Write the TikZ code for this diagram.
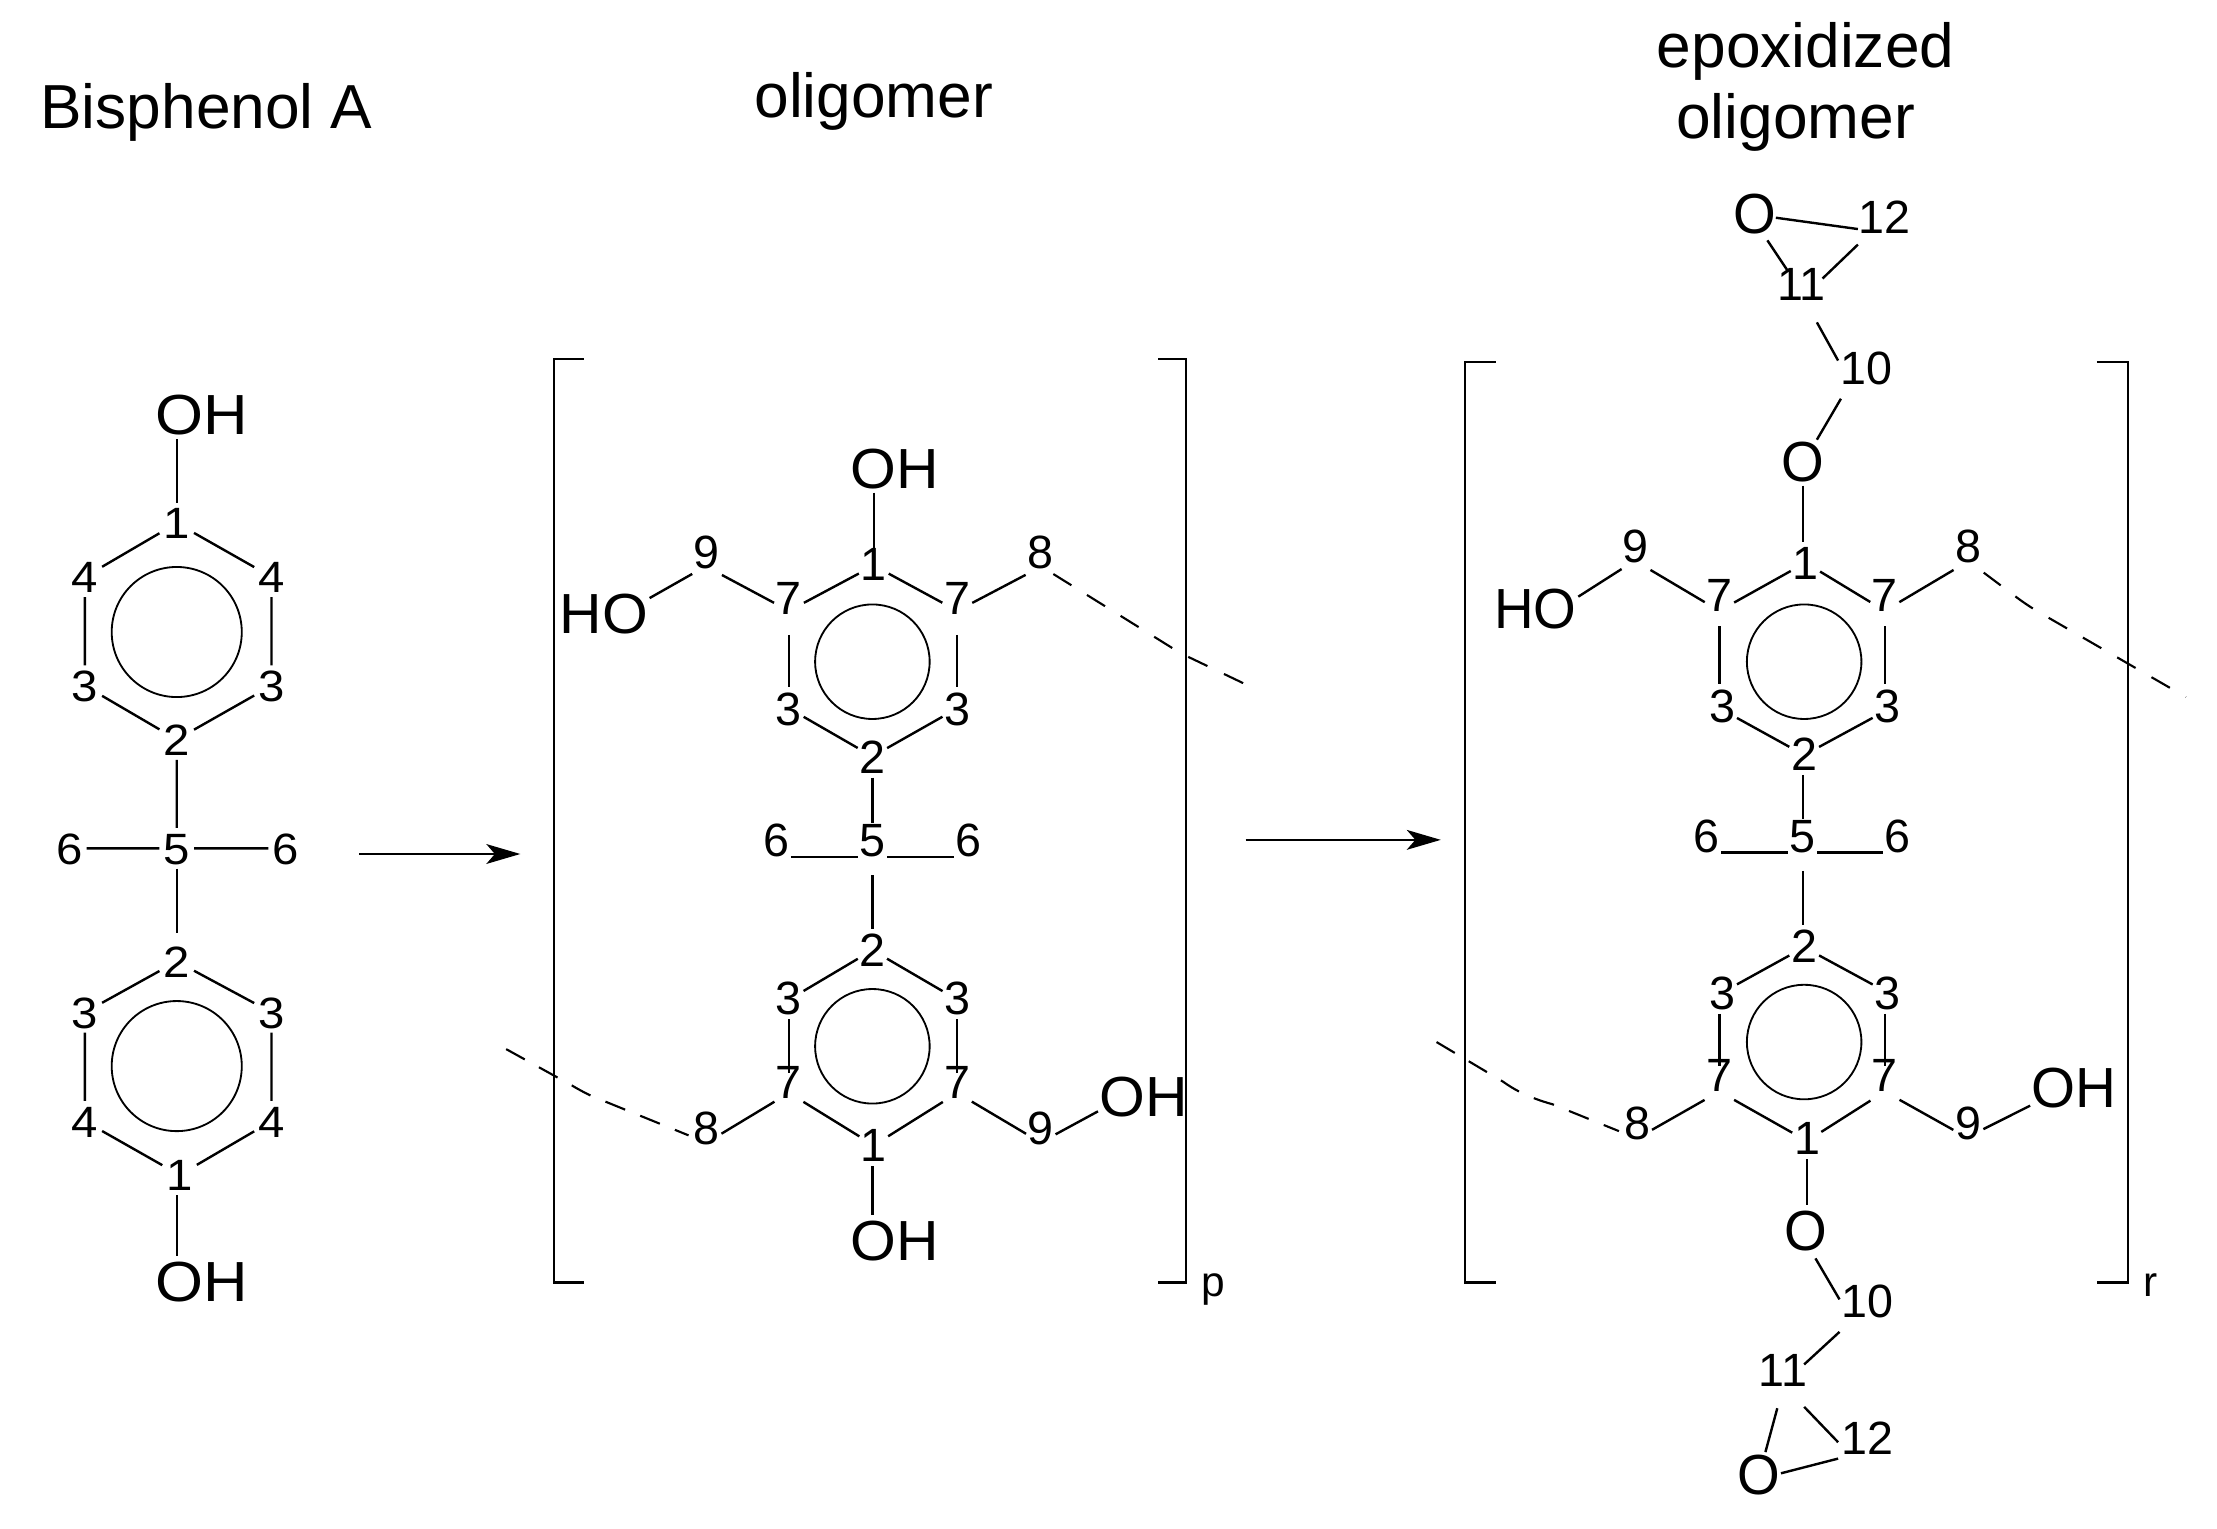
\documentclass[tikz,border=0pt]{standalone}
\usepackage{fontspec}
\setmainfont{Liberation Sans}
\usetikzlibrary{arrows.meta}
\tikzset{
  x=1pt,y=-1pt,
  atomlabel/.style={inner xsep=6pt,inner ysep=3pt,text height=23.6pt,text depth=0pt,font=\fontsize{33}{36}\selectfont},
  atomlabelA/.style={inner xsep=2.5pt,inner ysep=3pt,text height=22.4pt,text depth=0pt,font=\fontsize{31}{34}\selectfont,xscale=1.08,transform shape},
  hetero/.style={inner xsep=1pt,inner ysep=3pt,text height=28.6pt,text depth=0pt,font=\fontsize{40}{44}\selectfont},
  heteroA/.style={hetero,xscale=1.09,transform shape},
  heteroB/.style={hetero,xscale=1.04,transform shape},
  heteroC/.style={hetero,xscale=0.97,transform shape},
  title/.style={anchor=base,inner sep=0pt,font=\fontsize{44}{48}\selectfont},
  subs/.style={anchor=base,inner sep=0pt,font=\fontsize{30}{32}\selectfont},
  bond/.style={line width=1.7pt},
  into/.style={bond,shorten >=-9pt},
  hbond/.style={bond,shorten <=-5pt,shorten >=-5pt},
  chain/.style={line width=1.5pt,dash pattern=on 15pt off 13pt},
  chainB/.style={line width=1.5pt,dash pattern=on 15pt off 11.5pt},
  ring/.style={line width=1.3pt},
  bracket/.style={line width=1.7pt},
  reaction/.style={line width=1.6pt,-{Stealth[length=24pt,width=14pt,inset=6pt]}},
}
% bond between two labels; the atom sits a little below its label's centre
\newcommand\bnd[5][]{\draw[bond,shorten <=12pt,shorten >=12pt,#1] ([yshift=-#3pt]#2.center) -- ([yshift=-#5pt]#4.center);}
\begin{document}
\begin{tikzpicture}
\useasboundingbox (0,0) rectangle (1568,1080.7);
\fill[white] (0,0) rectangle (1568,1080.7);
% titles
\node[title] (t1) at (146,91) {Bisphenol A};
\node[title] (t2) at (618,83) {oligomer};
\node[title] (t3) at (1277,48) {epoxidized};
\node[title] (t4) at (1270,98) {oligomer};
% ---- panel 1
\begin{scope}[every node/.append style={atomlabelA}]
\node (aA) at (125,370) {1};
\node (aB) at (60,408) {4};
\node (aC) at (192,408) {4};
\node (aD) at (60,485) {3};
\node (aE) at (192,485) {3};
\node (aF) at (125,523) {2};
\node (aG) at (125,600) {5};
\node (aH) at (49,600) {6};
\node (aI) at (202,600) {6};
\node (aJ) at (125,680) {2};
\node (aK) at (60,716) {3};
\node (aL) at (192,716) {3};
\node (aM) at (60,793) {4};
\node (aN) at (192,793) {4};
\node (aO) at (127,831) {1};
\end{scope}
\node[heteroA] (aOHt) at (143,293) {OH};
\node[heteroA] (aOHb) at (143,906) {OH};
\node[draw,circle,ring,minimum size=92pt,inner sep=0pt] (aR1) at (125,447) {};
\node[draw,circle,ring,minimum size=92pt,inner sep=0pt] (aR2) at (125,754) {};
\draw[bond] (aA.north) -- (aA |- aOHt.south);
\draw[bond] (aA)--(aB) (aA)--(aC) (aB)--(aD) (aC)--(aE) (aD)--(aF) (aE)--(aF) (aF)--(aG) (aG)--(aH) (aG)--(aI) (aJ)--(aK) (aJ)--(aL) (aK)--(aM) (aL)--(aN) (aM)--(aO) (aN)--(aO);
\draw[bond,shorten >=6pt] (aG)--(aJ);
\draw[bond] (aJ |- aO.south) -- (aJ |- aOHb.north);
% arrow 1
\coordinate (arA) at (254,604);
\coordinate (arB) at (368,604);
\draw[reaction] (arA) -- (arB);
% ---- panel 2
\draw[bracket] (413,254) -- (392,254) -- (392,907) -- (413,907);
\draw[bracket] (819,254) -- (839,254) -- (839,907) -- (819,907);
\node[subs] (bp) at (858,917) {p};
\begin{scope}[every node/.append style={atomlabel}]
\node (bA) at (618,399) {1};
\node (bB) at (558,423) {7};
\node (bC) at (677,423) {7};
\node (bD) at (500,390) {9};
\node (bE) at (736,390) {8};
\node (bF) at (558,501) {3};
\node (bG) at (677,501) {3};
\node (bH) at (617,535) {2};
\node (bI) at (617,594) {5};
\node (bJ) at (549,594) {6};
\node (bK) at (685,594) {6};
\node (bL) at (617,672) {2};
\node (bM) at (558,706) {3};
\node (bN) at (677,706) {3};
\node (bO) at (558,765) {7};
\node (bP) at (677,765) {7};
\node (bQ) at (500,798) {8};
\node (bS) at (736,798) {9};
\node (bT) at (618,810) {1};
\end{scope}
\node[heteroB] (bOHt) at (633,331) {OH};
\node[heteroB] (bHO) at (427,434) {HO};
\node[heteroB] (bOHr) at (809,775) {OH};
\node[heteroB] (bOHb) at (633,877) {OH};
\node[draw,circle,ring,minimum size=81pt,inner sep=0pt] (bR1) at (617,468) {};
\node[draw,circle,ring,minimum size=81pt,inner sep=0pt] (bR2) at (617,740) {};
\draw[bond,shorten >=-12pt] (bA |- bOHt.south) -- (bA |- bA.north);
\bnd{bA}{1}{bB}{9}
\bnd{bA}{1}{bC}{9}
\bnd{bB}{9}{bD}{11}
\bnd{bC}{9}{bE}{11}
\draw[bond,shorten <=12pt] ([yshift=-10pt]bD.center) -- ([yshift=11pt]bHO.east);
\bnd[shorten <=17pt,shorten >=15pt]{bB}{9}{bF}{0}
\bnd[shorten <=17pt,shorten >=15pt]{bC}{9}{bG}{0}
\bnd{bF}{0}{bH}{0}
\bnd{bG}{0}{bH}{0}
\draw[into,shorten >=-3pt] (bH)--(bI);
\draw[hbond] ([yshift=3pt]bJ.south east)--([yshift=3pt]bI.south west);
\draw[hbond] ([yshift=3pt]bI.south east)--([yshift=3pt]bK.south west);
\draw[bond,shorten <=10pt] (bI)--(bL);
\bnd{bL}{0}{bM}{1}
\bnd{bL}{0}{bN}{1}
\draw[into] (bM)--(bO);
\draw[into] (bN)--(bP);
\bnd{bO}{8}{bQ}{10}
\bnd{bP}{8}{bS}{10}
\draw[bond,shorten <=12pt] ([yshift=-10pt]bS.center) -- ([yshift=-11pt]bOHr.west);
\bnd{bO}{8}{bT}{0}
\bnd{bP}{8}{bT}{0}
\draw[bond] (bL |- bT.south) -- (bL |- bOHb.north);
\coordinate (bEnd1) at (881,484);
\coordinate (bEnd2) at (358,742);
\draw[chain] (bE) ++(9,16) -- (835,462) -- (bEnd1);
\draw[chainB] (bEnd2) -- (405,768) .. controls (410,771) and (414,773) .. (418,775) -- ([shift={(-13,5)}]bQ.center);
% arrow 2
\coordinate (arC) at (881,594);
\coordinate (arD) at (1019,594);
\draw[reaction] (arC) -- (arD);
% ---- panel 3
\draw[bracket] (1058,256) -- (1036,256) -- (1036,907) -- (1058,907);
\draw[bracket] (1483,256) -- (1505,256) -- (1505,907) -- (1483,907);
\node[subs] (cr) at (1521,917) {r};
\begin{scope}[every node/.append style={atomlabel}]
\node (cA) at (1333,153) {12};
\node (cB) at (1274,201) {11};
\node (cC) at (1320,260) {10};
\node (cD) at (1277,398) {1};
\node (cE) at (1216,421) {7};
\node (cF) at (1333,421) {7};
\node (cG) at (1157,386) {9};
\node (cH) at (1392,386) {8};
\node (cI) at (1218,499) {3};
\node (cJ) at (1335,499) {3};
\node (cK) at (1276,533) {2};
\node (cL) at (1275,591) {5};
\node (cM) at (1207,591) {6};
\node (cN) at (1342,591) {6};
\node (cP) at (1276,669) {2};
\node (cQ) at (1218,702) {3};
\node (cS) at (1335,702) {3};
\node (cT) at (1216,760) {7};
\node (cU) at (1333,760) {7};
\node (cV) at (1158,794) {8};
\node (cW) at (1392,794) {9};
\node (cX) at (1278,805) {1};
\node (cY) at (1321,920) {10};
\node (cZ) at (1261,969) {11};
\node (cAA) at (1321,1017) {12};
\end{scope}
\node[heteroC] (cO1) at (1241,151) {O};
\node[heteroC] (cO2) at (1275,326) {O};
\node[heteroC] (cHO) at (1086,430) {HO};
\node[hetero] (cOH) at (1467,769) {OH};
\node[heteroC] (cO3) at (1277,870) {O};
\node[heteroC] (cO4) at (1244,1043) {O};
\node[draw,circle,ring,minimum size=81pt,inner sep=0pt] (cR1) at (1276,468) {};
\node[draw,circle,ring,minimum size=81pt,inner sep=0pt] (cR2) at (1276,737) {};
\draw[bond] ([shift={(15,3)}]cO1.center) -- ([shift={(-19,9)}]cA.center);
\draw[bond] ([shift={(9,19)}]cO1.center) -- ([shift={(-10,-10)}]cB.center);
\draw[bond] ([shift={(-19,20)}]cA.center) -- ([shift={(15,-4)}]cB.center);
\draw[bond] ([shift={(11,27)}]cB.center) -- ([shift={(-20,-5)}]cC.center);
\draw[bond] ([shift={(-18,22)}]cC.center) -- ([shift={(10,-15)}]cO2.center);
\draw[bond] (cO2.south) -- (cO2 |- cD.north);
\bnd{cD}{0}{cE}{11}
\bnd{cD}{0}{cF}{11}
\bnd{cE}{11}{cG}{11}
\bnd{cF}{11}{cH}{11}
\draw[bond,shorten <=12pt] ([yshift=-10pt]cG.center) -- ([yshift=8pt]cHO.east);
\draw[bond,shorten <=7pt] (cE.south) -- (cE |- cI.north);
\draw[bond,shorten <=7pt] (cF.south) -- (cF |- cJ.north);
\bnd{cI}{3}{cK}{1}
\bnd{cJ}{3}{cK}{1}
\draw[into,shorten >=-3pt] (cL |- cK.south) -- (cL.north);
\draw[hbond] ([yshift=3pt]cM.south east)--([yshift=3pt]cL.south west);
\draw[hbond] ([yshift=3pt]cL.south east)--([yshift=3pt]cN.south west);
\draw[bond,shorten <=10pt] (cL.south) -- (cL |- cP.north);
\bnd{cP}{1}{cQ}{0}
\bnd{cP}{1}{cS}{0}
\draw[into] (cT |- cQ.south) -- (cT.north);
\draw[into] (cU |- cS.south) -- (cU.north);
\bnd{cT}{12}{cV}{11}
\bnd{cU}{12}{cW}{11}
\draw[bond,shorten <=12pt] ([yshift=-10pt]cW.center) -- ([yshift=-13pt]cOH.west);
\bnd{cT}{12}{cX}{2}
\bnd{cU}{12}{cX}{2}
\draw[bond] (cX |- cX.south) -- (cX |- cO3.north);
\draw[bond] ([shift={(7,20)}]cO3.center) -- ([shift={(-20,-1)}]cY.center);
\draw[bond] ([shift={(-20,22)}]cY.center) -- ([shift={(15,-4)}]cZ.center);
\draw[bond] ([shift={(15,26)}]cZ.center) -- ([shift={(-21,3)}]cAA.center);
\draw[bond] ([shift={(-4,27)}]cZ.center) -- ([shift={(4.6,-16)}]cO4.center);
\draw[bond] ([shift={(15.6,-1)}]cO4.center) -- ([shift={(-21,14.6)}]cAA.center);
\coordinate (cEnd1) at (1546,493);
\coordinate (cEnd2) at (1016,737);
\draw[chain] (cH) ++(11,19) -- (1423,420) .. controls (1432,427) and (1440,432) .. (1449,437) -- (cEnd1);
\draw[chainB] (cEnd2) -- (1063,765) .. controls (1070,770) and (1080,776) .. (1098,781) -- ([shift={(-13,6)}]cV.center);
\end{tikzpicture}
\end{document}
